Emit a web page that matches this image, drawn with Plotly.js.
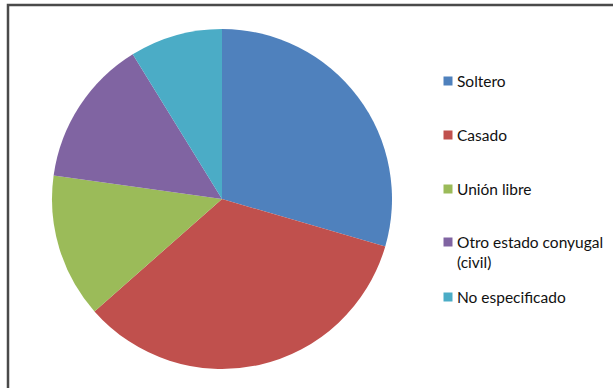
<!DOCTYPE html>
<html>
<head>
<meta charset="utf-8">
<script src="https://cdn.plot.ly/plotly-3.0.1.min.js"></script>
<style>html,body{margin:0;padding:0;background:#fff;}#chart{width:613px;height:388px;}</style>
</head>
<body>
<div id="chart"></div>
<script>
const categories = ["Soltero", "Casado", "Unión libre", "Otro estado conyugal (civil)", "No especificado"];
const legendLabels = ["Soltero", "Casado", "Unión libre", "Otro estado conyugal<br>(civil)", "No especificado"];
const values = [29.5, 34.0, 13.7, 14.0, 8.8];
const colors = ["#4F81BD", "#C0504D", "#9BBB59", "#8064A2", "#4BACC6"];

const W = 613, H = 388;
const legendY = [81, 135, 189, 242, 297];  // pixel row centers of legend entries
const px = x => x / W;
const py = y => 1 - y / H;

const shapes = [{
  type: "rect", xref: "paper", yref: "paper",
  x0: px(8), x1: px(640), y0: py(420), y1: py(5),
  line: {color: "#4a4a4a", width: 2.5}, fillcolor: "rgba(0,0,0,0)"
}];
const annotations = [];
categories.forEach((c, i) => {
  shapes.push({
    type: "rect", xref: "paper", yref: "paper",
    x0: px(443.5), x1: px(452.5), y0: py(legendY[i] + 4.5), y1: py(legendY[i] - 4.5),
    line: {width: 0}, fillcolor: colors[i]
  });
  annotations.push({
    xref: "paper", yref: "paper", x: px(455), y: py(legendY[i] - 11),
    xanchor: "left", yanchor: "top", align: "left", showarrow: false,
    text: legendLabels[i],
    font: {family: "Lato, 'Open Sans', sans-serif", size: 15.5, color: "#111111"}
  });
});

const data = [{
  type: "pie",
  labels: categories,
  values: values,
  sort: false,
  direction: "clockwise",
  rotation: 0,
  marker: {colors: colors, line: {width: 0}},
  textinfo: "none",
  hoverinfo: "label+percent",
  domain: {x: [px(52), px(392)], y: [py(369), py(29)]}
}];

const layout = {
  width: W, height: H,
  margin: {l: 0, r: 0, t: 0, b: 0},
  paper_bgcolor: "#ffffff",
  showlegend: false,
  shapes: shapes,
  annotations: annotations
};

Plotly.newPlot("chart", data, layout, {displayModeBar: false, staticPlot: true});
</script>
</body>
</html>
